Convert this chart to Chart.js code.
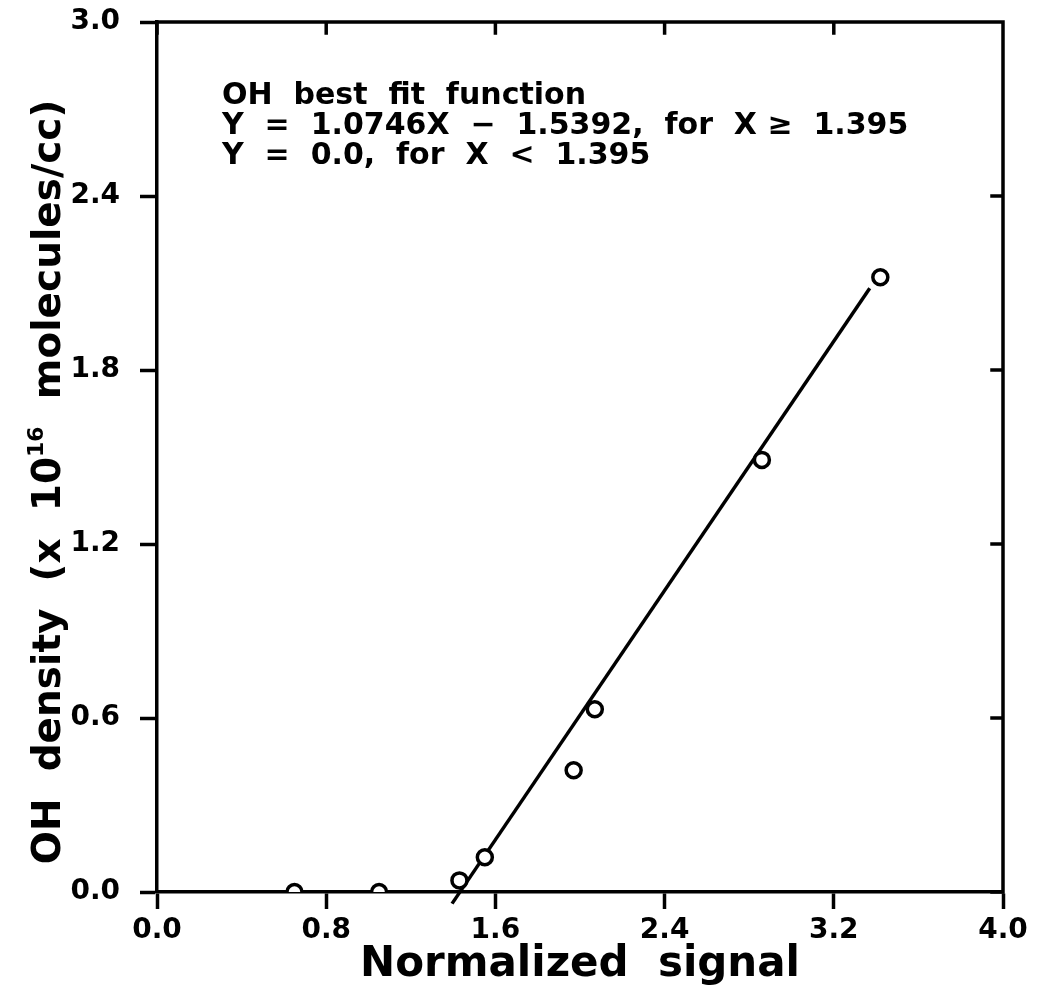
<!doctype html>
<html lang="en">
  <head>
    <meta charset="utf-8">
    <title>OH density vs normalized signal</title>
    <script src="https://cdn.jsdelivr.net/npm/chart.js"></script>
    <style>
      html, body { margin: 0; padding: 0; background: #fff; }
    </style>
  </head>
  <body>
    <canvas id="ohChart" width="1041" height="993"></canvas>
    <script>
      // measured points
      let signal = [0.65, 1.05, 1.43, 1.55, 1.97, 2.07, 2.86, 3.42];
      let density = [0.0, 0.0, 0.04, 0.12, 0.42, 0.63, 1.49, 2.12];

      // best fit: Y = 1.0746X - 1.5392, drawn over this X range
      let fitSlope = 1.0746;
      let fitOffset = -1.5392;
      let fitRange = [1.395, 3.37];

      let xTicks = [0.0, 0.8, 1.6, 2.4, 3.2, 4.0];
      let yTicks = [0.0, 0.6, 1.2, 1.8, 2.4, 3.0];

      let noteLines = [
        'OH  best  fit  function',
        'Y  =  1.0746X  \u2212  1.5392,  for  X \u2265  1.395',
        'Y  =  0.0,  for  X  <  1.395'
      ];

      let ink = '#000';
      let fontFam = '"DejaVu Sans", sans-serif';
      let lw = 3.5;

      let pts = signal.map(function(x, i) { return {x: x, y: density[i]}; });
      let fitPts = fitRange.map(function(x) { return {x: x, y: fitSlope * x + fitOffset}; });

      // frame on top/right with inward ticks, note text and y title
      var extras = {
        id: 'extras',
        afterDraw: function(chart) {
          var c = chart.ctx, a = chart.chartArea;
          var xs = chart.scales.x, ys = chart.scales.y;
          c.save();
          c.strokeStyle = ink;
          c.lineWidth = lw;
          c.lineCap = 'square';
          c.beginPath();
          c.moveTo(a.left, a.top); c.lineTo(a.right, a.top); c.lineTo(a.right, a.bottom);
          xTicks.forEach(function(v) {
            var px = xs.getPixelForValue(v);
            c.moveTo(px, a.top); c.lineTo(px, a.top + 11);
          });
          yTicks.forEach(function(v) {
            var py = ys.getPixelForValue(v);
            c.moveTo(a.right, py); c.lineTo(a.right - 11, py);
          });
          c.stroke();

          c.fillStyle = ink;
          c.font = 'bold 30px ' + fontFam;
          c.textBaseline = 'alphabetic';
          c.textAlign = 'left';
          noteLines.forEach(function(t, i) {
            c.fillText(t, 222, 104 + i * 30);
          });

          // rotated axis title with superscript exponent
          var parts = [
            {t: 'OH  density  (x  10', f: 'bold 39px ' + fontFam, dy: 0},
            {t: '16', f: 'bold 22px ' + fontFam, dy: -17},
            {t: '  molecules/cc)', f: 'bold 39px ' + fontFam, dy: 0}
          ];
          var total = 0;
          parts.forEach(function(p) { c.font = p.f; p.w = c.measureText(p.t).width; total += p.w; });
          c.translate(60, 482);
          c.rotate(-Math.PI / 2);
          var cx = -total / 2;
          parts.forEach(function(p) {
            c.font = p.f;
            c.fillText(p.t, cx, p.dy);
            cx += p.w;
          });
          c.restore();
        }
      };

      var ctx = document.getElementById('ohChart').getContext('2d');
      var myChart = new Chart(ctx, {
        type: 'scatter',
        data: {
          datasets: [
            {
              label: 'OH density',
              data: pts,
              pointStyle: 'circle',
              pointRadius: 7.5,
              pointBorderWidth: 3.5,
              pointBorderColor: ink,
              pointBackgroundColor: '#fff',
              showLine: false,
              order: 1
            },
            {
              label: 'fit',
              data: fitPts,
              showLine: true,
              borderColor: ink,
              borderWidth: lw,
              pointRadius: 0,
              clip: false,
              order: 2
            }
          ]
        },
        options: {
          responsive: false,
          animation: false,
          devicePixelRatio: 1,
          layout: { padding: { top: 22, right: 38, left: 0, bottom: 0 } },
          plugins: {
            legend: { display: false },
            tooltip: { enabled: false }
          },
          scales: {
            x: {
              type: 'linear',
              min: 0, max: 4,
              afterBuildTicks: function(s) { s.ticks = xTicks.map(function(v) { return {value: v}; }); },
              afterFit: function(s) { s.height = 101; s.paddingLeft = 0; s.paddingRight = 0; },
              border: { display: true, color: ink, width: lw },
              grid: { drawOnChartArea: false, drawTicks: true, tickLength: 17, tickWidth: lw, color: ink },
              ticks: {
                color: ink, padding: 5,
                font: { family: fontFam, size: 28, weight: 'bold' },
                maxRotation: 0,
                callback: function(v) { return v.toFixed(1); }
              },
              title: {
                display: true, text: 'Normalized  signal', color: ink,
                font: { family: fontFam, size: 42, weight: 'bold' },
                padding: { top: 0, bottom: 3 }
              }
            },
            y: {
              type: 'linear',
              min: 0, max: 3,
              afterBuildTicks: function(s) { s.ticks = yTicks.map(function(v) { return {value: v}; }); },
              afterFit: function(s) { s.width = 157; s.paddingTop = 0; s.paddingBottom = 0; },
              border: { display: true, color: ink, width: lw },
              grid: { drawOnChartArea: false, drawTicks: true, tickLength: 17, tickWidth: lw, color: ink },
              ticks: {
                color: ink, padding: 20,
                font: { family: fontFam, size: 28, weight: 'bold' },
                callback: function(v) { return v.toFixed(1); }
              }
            }
          }
        },
        plugins: [extras]
      });
    </script>
  </body>
</html>
